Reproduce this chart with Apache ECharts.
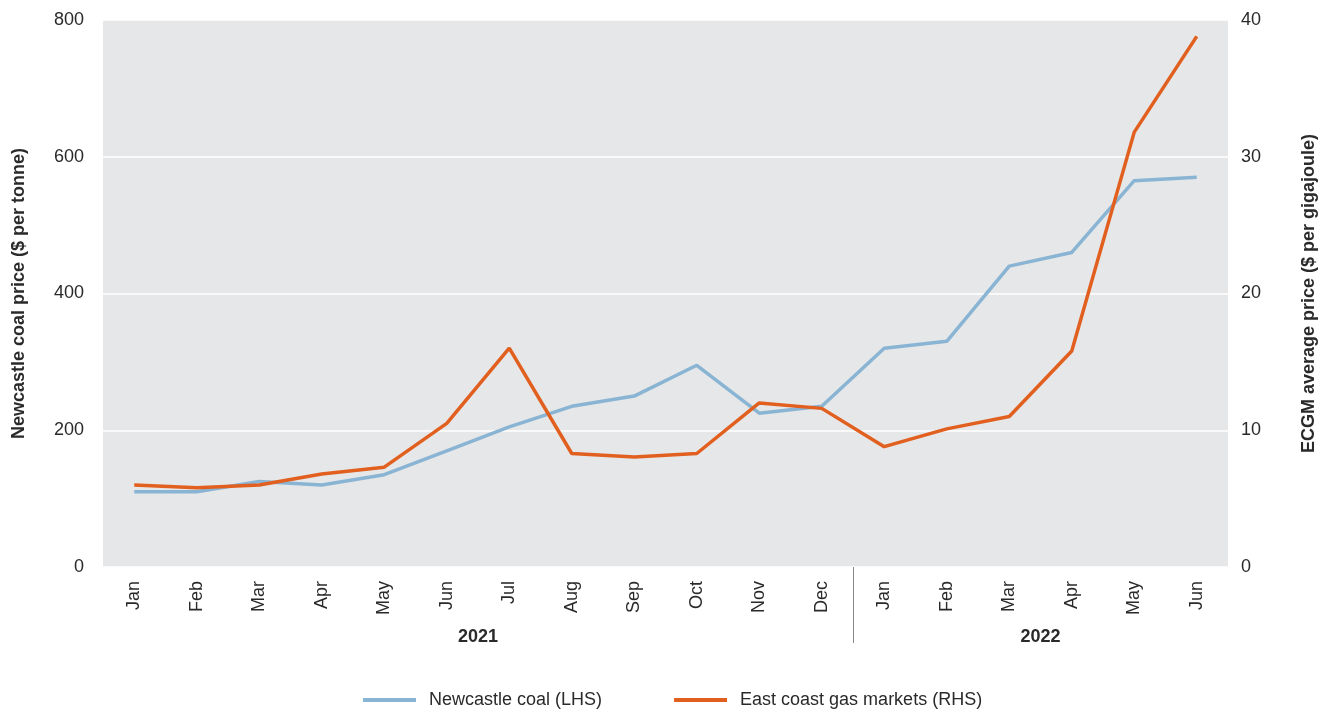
<!DOCTYPE html>
<html>
<head>
<meta charset="utf-8">
<script src="https://cdn.jsdelivr.net/npm/echarts@6/dist/echarts.min.js"></script>
<style>
  html, body { margin: 0; padding: 0; background: #fff; }
  #chart { width: 1323px; height: 709px; }
</style>
</head>
<body>
<div id="chart"></div>
<script>
// Monthly prices, Jan 2021 – Jun 2022
const months = ['Jan', 'Feb', 'Mar', 'Apr', 'May', 'Jun', 'Jul', 'Aug', 'Sep', 'Oct', 'Nov', 'Dec',
                'Jan', 'Feb', 'Mar', 'Apr', 'May', 'Jun'];
const years = [
  { label: '2021', from: 0, to: 11 },
  { label: '2022', from: 12, to: 17 }
];
// Newcastle coal, $ per tonne (left axis)
const coalPrice = [110, 110, 125, 120, 135, 170, 205, 235, 250, 295, 225, 235,
                   320, 330, 440, 460, 565, 570];
// East coast gas markets, $ per gigajoule (right axis)
const gasPrice = [6.0, 5.8, 6.0, 6.8, 7.3, 10.5, 16.0, 8.3, 8.05, 8.3, 12.0, 11.6,
                  8.8, 10.1, 11.0, 15.8, 31.8, 38.8];
const leftTicks = { min: 0, max: 800, interval: 200 };
const rightTicks = { min: 0, max: 40, interval: 10 };

const FONT = '"Liberation Sans", Arial, sans-serif';
const TEXT = '#2a2a2a';
const SIZE = 18;
const BLUE = '#8AB4D3';
const ORANGE = '#E2601F';

const chart = echarts.init(document.getElementById('chart'));

const option = {
  animation: false,
  textStyle: { fontFamily: FONT },
  grid: {
    left: 103, right: 95, top: 20, bottom: 142,
    outerBoundsMode: 'none',
    containLabel: false,
    show: true, backgroundColor: '#E6E7E8', borderWidth: 0
  },
  legend: {
    top: 686,
    left: 358,
    itemWidth: 53,
    itemHeight: 4,
    itemGap: 72,
    icon: 'rect',
    textStyle: { fontFamily: FONT, fontSize: SIZE, color: TEXT, padding: [0, 0, 0, 8] },
    data: ['Newcastle coal (LHS)', 'East coast gas markets (RHS)']
  },
  xAxis: {
    type: 'category',
    data: months,
    boundaryGap: true,
    axisLine: { show: false },
    axisTick: { show: false },
    axisLabel: {
      rotate: 90, margin: 14, interval: 0,
      padding: [10, 0, 0, 0],
      fontFamily: FONT, fontSize: SIZE, color: TEXT
    }
  },
  yAxis: [
    {
      type: 'value',
      min: leftTicks.min, max: leftTicks.max, interval: leftTicks.interval,
      name: 'Newcastle coal price ($ per tonne)',
      nameLocation: 'middle', nameRotate: 90, nameGap: 75,
      nameTextStyle: { fontFamily: FONT, fontSize: SIZE, fontWeight: 'bold', color: TEXT },
      axisLine: { show: false }, axisTick: { show: false },
      axisLabel: { margin: 19, fontFamily: FONT, fontSize: SIZE, color: TEXT },
      splitLine: { show: true, lineStyle: { color: '#ffffff', width: 1.5 } }
    },
    {
      type: 'value',
      min: rightTicks.min, max: rightTicks.max, interval: rightTicks.interval,
      name: 'ECGM average price ($ per gigajoule)',
      nameLocation: 'middle', nameRotate: 90, nameGap: 72,
      nameTextStyle: { fontFamily: FONT, fontSize: SIZE, fontWeight: 'bold', color: TEXT },
      axisLine: { show: false }, axisTick: { show: false },
      axisLabel: { margin: 13, fontFamily: FONT, fontSize: SIZE, color: TEXT },
      splitLine: { show: false }
    }
  ],
  series: [
    {
      name: 'Newcastle coal (LHS)',
      type: 'line',
      yAxisIndex: 0,
      data: coalPrice,
      showSymbol: false,
      symbol: 'none',
      color: BLUE,
      lineStyle: { color: BLUE, width: 3.5 },
      z: 2
    },
    {
      name: 'East coast gas markets (RHS)',
      type: 'line',
      yAxisIndex: 1,
      data: gasPrice,
      showSymbol: false,
      symbol: 'none',
      color: ORANGE,
      lineStyle: { color: ORANGE, width: 3.5 },
      z: 3
    }
  ]
};

chart.setOption(option);

// Year labels under the month labels and a divider between the years
function drawYearMarks() {
  const baseY = chart.convertToPixel({ yAxisIndex: 0 }, 0);
  const elements = [];
  years.forEach(function (y) {
    const x0 = chart.convertToPixel({ xAxisIndex: 0 }, y.from);
    const x1 = chart.convertToPixel({ xAxisIndex: 0 }, y.to);
    elements.push({
      type: 'text',
      x: (x0 + x1) / 2,
      y: baseY + 70,
      style: {
        text: y.label, fontFamily: FONT, fontSize: SIZE, fontWeight: 'bold',
        fill: TEXT, align: 'center', verticalAlign: 'middle'
      }
    });
  });
  for (let i = 1; i < years.length; i++) {
    const xa = chart.convertToPixel({ xAxisIndex: 0 }, years[i - 1].to);
    const xb = chart.convertToPixel({ xAxisIndex: 0 }, years[i].from);
    const xm = Math.round((xa + xb) / 2) + 0.5;
    elements.push({
      type: 'line',
      shape: { x1: xm, y1: baseY, x2: xm, y2: baseY + 76 },
      style: { stroke: '#888', lineWidth: 1 }
    });
  }
  chart.setOption({ graphic: elements });
}
drawYearMarks();
</script>
</body>
</html>
